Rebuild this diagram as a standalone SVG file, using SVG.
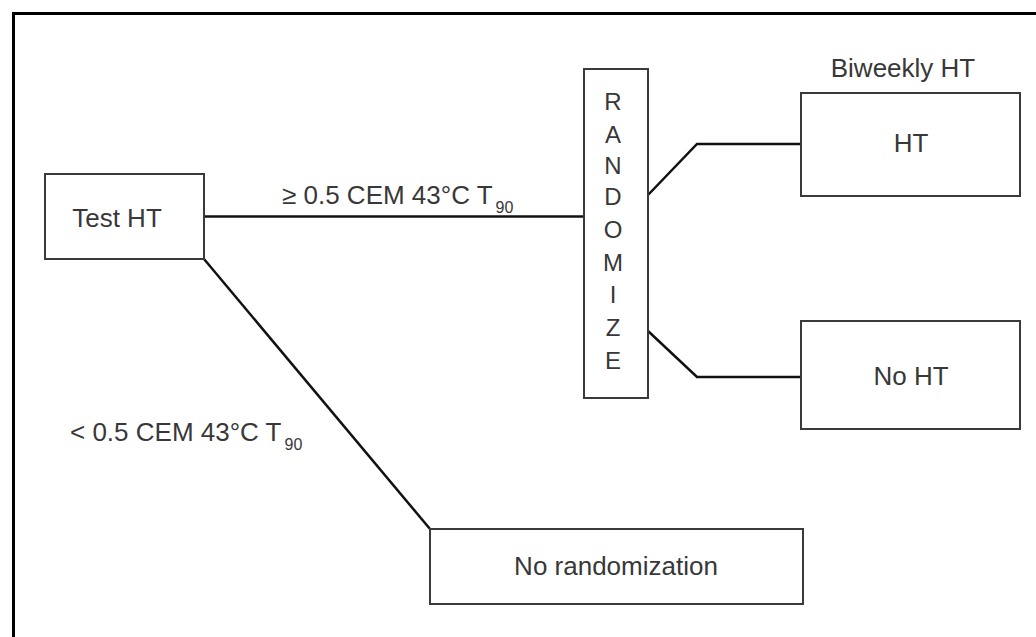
<svg xmlns="http://www.w3.org/2000/svg" width="1036" height="637" viewBox="0 0 1036 637">
<style>
.box{fill:#fff;stroke:#3a3a3a;stroke-width:2}
.t{font-family:"Liberation Sans",Arial,sans-serif;font-size:26px;fill:#383838;text-anchor:middle}
.r{font-family:"Liberation Sans",Arial,sans-serif;font-size:24px;fill:#383838;text-anchor:middle}
.lb{font-family:"Liberation Sans",Arial,sans-serif;font-size:26px;fill:#383838}
.sub{font-size:16px}
.c{fill:none;stroke:#111;stroke-width:2.5}
</style>
<rect width="1036" height="637" fill="#fff"/>
<path d="M13.5 640 V13.5 H1040" fill="none" stroke="#000" stroke-width="3"/>
<g id="connectors">
<line class="c" x1="204" y1="216.5" x2="584" y2="216.5"/>
<line class="c" x1="204" y1="259" x2="430" y2="529"/>
<polyline class="c" points="648,195 697,144 801,144"/>
<polyline class="c" points="648,331 697,377 801,377"/>
</g>
<g id="test-ht">
<rect class="box" x="45" y="174" width="159" height="85"/>
<text class="t" x="117" y="227">Test HT</text>
</g>
<g id="randomize">
<rect class="box" x="584" y="69" width="64" height="329"/>
<text class="r" x="613" y="110">R</text>
<text class="r" x="613" y="143">A</text>
<text class="r" x="613" y="174">N</text>
<text class="r" x="613" y="205">D</text>
<text class="r" x="613" y="238">O</text>
<text class="r" x="613" y="271">M</text>
<text class="r" x="613" y="303">I</text>
<text class="r" x="613" y="336">Z</text>
<text class="r" x="613" y="369">E</text>
</g>
<g id="ht">
<rect class="box" x="801" y="93" width="219" height="103"/>
<text class="t" x="911" y="152">HT</text>
<text class="t" x="903" y="77">Biweekly HT</text>
</g>
<g id="no-ht">
<rect class="box" x="801" y="321" width="219" height="108"/>
<text class="t" x="911" y="385">No HT</text>
</g>
<g id="no-randomization">
<rect class="box" x="430" y="529" width="373" height="75"/>
<text class="t" x="616" y="575">No randomization</text>
</g>
<g id="labels">
<text class="lb" x="282" y="204">≥ 0.5 CEM 43°C T<tspan class="sub" dx="3" dy="9">90</tspan></text>
<text class="lb" x="70" y="441">&lt; 0.5 CEM 43°C T<tspan class="sub" dx="3" dy="9">90</tspan></text>
</g>
</svg>
